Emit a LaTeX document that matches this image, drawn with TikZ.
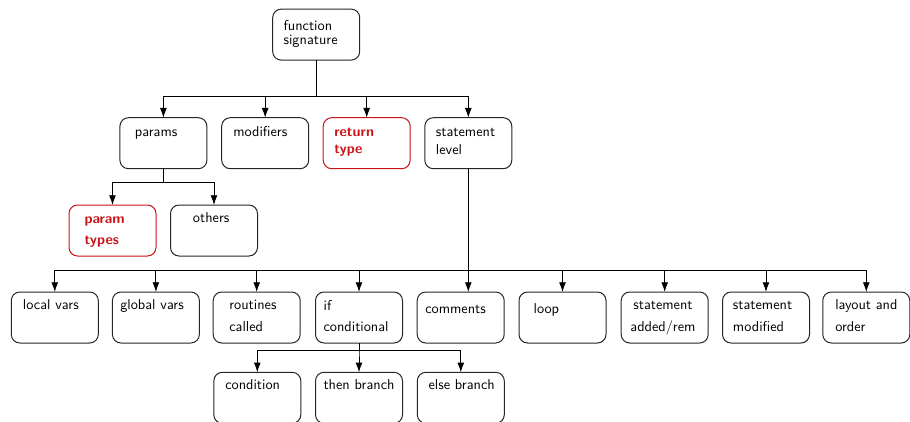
\documentclass[tikz,border=0pt]{standalone}
\usetikzlibrary{arrows.meta}
\definecolor{hired}{RGB}{200,20,25}
\begin{document}
\begin{tikzpicture}[x=0.7pt,y=-0.7pt,
  box/.style={draw=black!85, line width=0.7pt, rounded corners=6pt, minimum width=60.9pt, minimum height=35.7pt, inner sep=0pt, outer sep=0pt},
  redbox/.style={box, draw=hired},
  txt/.style={font=\sffamily, inner sep=0pt, anchor=base west, align=left},
  redtxt/.style={txt, font=\sffamily\bfseries, text=hired},
  arr/.style={line width=0.6pt, -{Latex[length=6.8pt,width=4.8pt]}}]
\useasboundingbox (0,0) rectangle (910,421);
% row 1
\node[box] (fs) at (316.2,34.6) {};
\node[txt] (fs-t) at (283.3,44.7) {function\\[-2.2pt]signature};
% row 2
\node[box] (pa) at (163.4,143.2) {};
\node[box] (mo) at (265.2,143.2) {};
\node[redbox] (rt) at (366.7,143.2) {};
\node[box] (sl) at (468.3,143.2) {};
\node[txt] (pa-t) at (134.7,136.7) {params};
\node[txt] (mo-t) at (233,136.4) {modifiers};
\node[redtxt] (rt-t) at (334,153.5) {return\\type};
\node[txt] (sl-t) at (435.7,154) {statement\\level};
% row 3
\node[redbox] (pt) at (112.5,230.5) {};
\node[box] (ot) at (214,230.5) {};
\node[redtxt] (pt-t) at (84.3,244) {param\\[2.5pt]types};
\node[txt] (ot-t) at (192.7,222.3) {others};
% row 4
\node[box] (lv) at (54.8,317.5) {};
\node[box] (gv) at (155.9,317.5) {};
\node[box] (rc) at (256.7,317.5) {};
\node[box] (ic) at (359,317.5) {};
\node[box] (cm) at (460.7,317.5) {};
\node[box] (lp) at (562.5,317.5) {};
\node[box] (sa) at (664.7,317.5) {};
\node[box] (sm) at (766,317.5) {};
\node[box] (lo) at (866.3,317.5) {};
\node[txt] (lv-t) at (22.7,309.3) {local vars};
\node[txt] (gv-t) at (120,309.3) {global vars};
\node[txt] (rc-t) at (229,331.7) {routines\\[3.2pt]called};
\node[txt] (ic-t) at (323.3,331.7) {if\\[3pt]conditional};
\node[txt] (cm-t) at (425,313.3) {comments};
\node[txt] (lp-t) at (533.3,313.3) {loop};
\node[txt, anchor=base, align=center] (sa-t) at (663,331.7) {statement\\[3.2pt]added/rem};
\node[txt] (sm-t) at (732.7,331.7) {statement\\[3.2pt]modified};
\node[txt] (lo-t) at (835,331.7) {layout and\\[3.2pt]order};
% row 5
\node[box] (co) at (257.3,397.8) {};
\node[box] (tb) at (359,397.8) {};
\node[box] (eb) at (460.8,397.8) {};
\node[txt] (co-t) at (225,389.3) {condition};
\node[txt] (tb-t) at (323.3,389.3) {then branch};
\node[txt] (eb-t) at (428.3,389.3) {else branch};
% buses
\coordinate (b1) at (0,96);
\coordinate (b2) at (0,182.3);
\coordinate (b3) at (0,270.7);
\coordinate (b4) at (0,350.7);
\foreach \c in {pa,mo,rt,sl}
  \draw[arr] (fs.south) -- (fs.south |- b1) -| (\c.north);
\foreach \c in {pt,ot}
  \draw[arr] (pa.south) -- (pa.south |- b2) -| (\c.north);
\draw[arr] (sl.south) -- (sl.south |- cm.north);
\foreach \c in {lv,gv,rc,ic,lp,sa,sm,lo}
  \draw[arr] (sl.south) -- (sl.south |- b3) -| (\c.north);
\foreach \c in {co,tb,eb}
  \draw[arr] (ic.south) -- (ic.south |- b4) -| (\c.north);
\end{tikzpicture}
\end{document}
